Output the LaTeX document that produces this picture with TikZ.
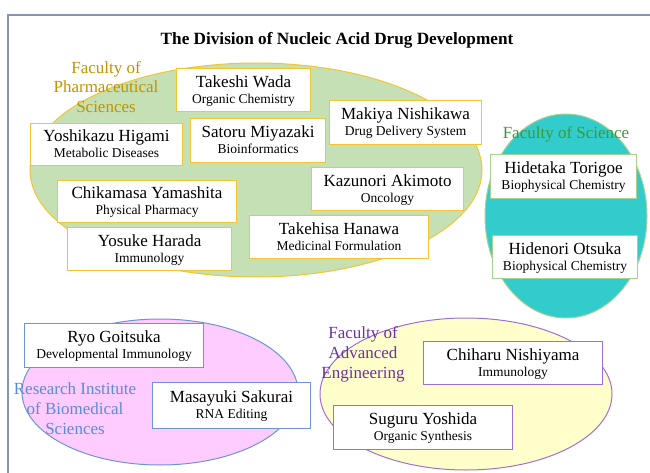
\documentclass[tikz,border=0pt]{standalone}
\usepackage{fontspec}
\setmainfont{Liberation Serif}
\begin{document}
\definecolor{frameblue}{HTML}{8497B0}
\definecolor{pharmfill}{HTML}{C5E0B4}
\definecolor{pharmline}{HTML}{F5C431}
\definecolor{pharmtext}{HTML}{C09400}
\definecolor{scifill}{HTML}{33CCCC}
\definecolor{sciline}{HTML}{A9D18E}
\definecolor{scitext}{HTML}{3A9A3A}
\definecolor{bioline}{HTML}{6F94D6}
\definecolor{biofill}{HTML}{FFCCFF}
\definecolor{biotext}{HTML}{5B8BD6}
\definecolor{engfill}{HTML}{FFFFCC}
\definecolor{engline}{HTML}{A070D0}
\definecolor{engtext}{HTML}{7030A0}
% one member: name on the first line, research field below it
\newcommand{\entry}[2]{{\fontsize{17}{16}\selectfont\rule{0pt}{13pt}#1}\\{\fontsize{13.5}{16}\selectfont #2\rule[-3pt]{0pt}{3pt}}}
\begin{tikzpicture}[x=1pt,y=-1pt,
  member/.style={draw, fill=white, line width=1.1pt, align=center, inner sep=0pt, anchor=north west,
    font=\fontsize{13.5}{16}\selectfont},
  pbox/.style={member, draw=pharmline},
  sbox/.style={member, draw=sciline},
  bbox/.style={member, draw=bioline},
  ebox/.style={member, draw=engline},
  grouplabel/.style={align=center, font=\fontsize{17}{20}\selectfont, inner sep=0pt}]
\useasboundingbox (0,0) rectangle (650,473);
% outer frame, running off the page to the right and bottom
\draw[frameblue, line width=1.6pt] (8,480) -- (8,15) -- (660,15);
\node[font=\bfseries\fontsize{17.2}{20}\selectfont, anchor=base, inner sep=0pt] (title) at (337,44.5) {The Division of Nucleic Acid Drug Development};
% faculty regions
\fill[pharmfill] (256,170) ellipse [x radius=226, y radius=107];
\draw[pharmline, line width=1pt] (256,170) ellipse [x radius=226, y radius=107];
\filldraw[fill=scifill, draw=sciline, line width=1pt] (566,216) ellipse [x radius=81, y radius=102];
\filldraw[fill=biofill, draw=bioline, line width=1pt] (160,392) ellipse [x radius=138, y radius=73];
\filldraw[fill=engfill, draw=engline, line width=1pt] (466,394) ellipse [x radius=146, y radius=76];
% Faculty of Pharmaceutical Sciences
\node[pbox, minimum width=134pt, minimum height=43pt] (wada) at (176,68) {\entry{Takeshi Wada}{Organic Chemistry}};
\node[pbox, minimum width=152pt, minimum height=42pt] (higami) at (30,123) {\entry{Yoshikazu Higami}{Metabolic Diseases}};
\node[pbox, minimum width=135pt, minimum height=44pt] (miyazaki) at (190,118) {\entry{Satoru Miyazaki}{Bioinformatics}};
\node[pbox, minimum width=152pt, minimum height=44pt] (nishikawa) at (329,100) {\entry{Makiya Nishikawa}{Drug Delivery System}};
\node[pbox, minimum width=179pt, minimum height=42pt] (yamashita) at (57,180) {\entry{Chikamasa Yamashita}{Physical Pharmacy}};
\node[pbox, minimum width=152pt, minimum height=43pt] (akimoto) at (311,167) {\entry{Kazunori Akimoto}{Oncology}};
\node[pbox, minimum width=164pt, minimum height=43pt] (harada) at (67,227) {\entry{Yosuke Harada}{Immunology}};
\node[pbox, minimum width=179pt, minimum height=43pt] (hanawa) at (249,215) {\entry{Takehisa Hanawa}{Medicinal Formulation}};
\node[grouplabel, text=pharmtext, font=\fontsize{17}{19.5}\selectfont] (pharm) at (106,86.6) {Faculty of\\Pharmaceutical\\Sciences};
% Faculty of Science
\node[sbox, minimum width=146pt, minimum height=44pt] (torigoe) at (490,154) {\entry{Hidetaka Torigoe}{Biophysical Chemistry}};
\node[sbox, minimum width=145pt, minimum height=43pt] (otsuka) at (492,235) {\entry{Hidenori Otsuka}{Biophysical Chemistry}};
\node[grouplabel, text=scitext, anchor=base] (sci) at (566,139) {Faculty of Science};
% Research Institute of Biomedical Sciences
\node[bbox, minimum width=179pt, minimum height=44pt] (goitsuka) at (24,323) {\entry{Ryo Goitsuka}{Developmental Immunology}};
\node[bbox, minimum width=158pt, minimum height=46pt] (sakurai) at (152,382) {\entry{Masayuki Sakurai}{RNA Editing}};
\node[grouplabel, text=biotext] (bio) at (75,409) {Research Institute\\of Biomedical\\Sciences};
% Faculty of Advanced Engineering
\node[ebox, minimum width=179pt, minimum height=43pt] (nishiyama) at (423,341) {\entry{Chiharu Nishiyama}{Immunology}};
\node[ebox, minimum width=179pt, minimum height=44pt] (yoshida) at (333,405) {\entry{Suguru Yoshida}{Organic Synthesis}};
\node[grouplabel, text=engtext] (eng) at (363,354) {Faculty of\\Advanced\\Engineering};
\end{tikzpicture}
\end{document}
